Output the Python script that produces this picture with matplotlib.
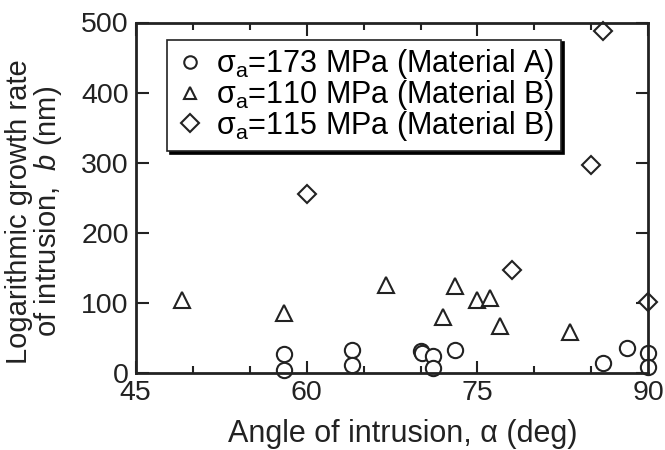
import matplotlib
matplotlib.use("Agg")
import matplotlib.pyplot as plt
from matplotlib.ticker import MultipleLocator

plt.rcParams["font.family"] = ["Liberation Sans", "DejaVu Sans"]
plt.rcParams["mathtext.fontset"] = "custom"
plt.rcParams["mathtext.rm"] = "Liberation Sans"
plt.rcParams["mathtext.it"] = "Liberation Sans:italic"

ink = "#222222"

# sigma_a = 173 MPa, material A
angle_a = [58.0, 58.0, 64.0, 64.0, 70.0, 70.1, 71.1, 71.1, 73.0, 86.0, 88.1, 90.0, 90.0]
rate_a = [26, 4, 32, 11, 31, 28, 24, 6, 32, 13, 35, 28, 8]

# sigma_a = 110 MPa, material B
angle_b1 = [49.1, 58.0, 67.0, 73.0, 72.0, 75.0, 76.1, 77.0, 83.1]
rate_b1 = [103, 85, 125, 124, 80, 104, 107, 67, 58]

# sigma_a = 115 MPa, material B
angle_b2 = [60.0, 78.0, 85.0, 86.0, 90.0]
rate_b2 = [255, 146, 296, 488, 101]

labels = [
    r"$\mathregular{\sigma_a}$=173 MPa (Material A)",
    r"$\mathregular{\sigma_a}$=110 MPa (Material B)",
    r"$\mathregular{\sigma_a}$=115 MPa (Material B)",
]

fig = plt.figure(figsize=(6.65, 4.5), dpi=100)
ax = fig.add_axes([0.204, 0.172, 0.771, 0.778])

style = dict(linestyle="none", markerfacecolor="white", markeredgecolor=ink,
             markeredgewidth=1.5, clip_on=False)
ax.plot(angle_a, rate_a, marker="o", markersize=11, label=labels[0], **style)
ax.plot(angle_b1, rate_b1, marker="^", markersize=12, label=labels[1], **style)
ax.plot(angle_b2, rate_b2, marker="D", markersize=9, label=labels[2], **style)

ax.set_xlim(45, 90)
ax.set_ylim(0, 500)
ax.xaxis.set_major_locator(MultipleLocator(15))
ax.xaxis.set_minor_locator(MultipleLocator(5))
ax.yaxis.set_major_locator(MultipleLocator(100))
ax.tick_params(which="both", direction="in", top=True, right=True,
               labelsize=20.5, width=1.5, color=ink, labelcolor=ink)
ax.tick_params(axis="x", pad=5)
ax.tick_params(axis="y", pad=5)
ax.tick_params(which="major", length=9)
ax.tick_params(which="minor", length=5)
for s in ax.spines.values():
    s.set_linewidth(2)
    s.set_color(ink)

ax.set_xlabel("Angle of intrusion, α (deg)", fontsize=22, color=ink)
ax.xaxis.set_label_coords(0.521, -0.133)
ax.set_ylabel("Logarithmic growth rate\nof intrusion,  $b$ (nm)", fontsize=21,
              color=ink, linespacing=0.95)
ax.yaxis.set_label_coords(-0.14, 0.46)

leg = ax.legend(loc="upper left", bbox_to_anchor=(0.061, 0.951), borderaxespad=0,
                fontsize=22, frameon=True, fancybox=False, handletextpad=0.35,
                handlelength=1.0, labelspacing=-0.1, borderpad=0.25,
                shadow={"color": "black", "alpha": 1})
leg.get_frame().set_edgecolor(ink)
leg.get_frame().set_linewidth(1.2)
for h in leg.legend_handles:
    h.set_markersize(9)

fig.savefig("out.png", dpi=100)
